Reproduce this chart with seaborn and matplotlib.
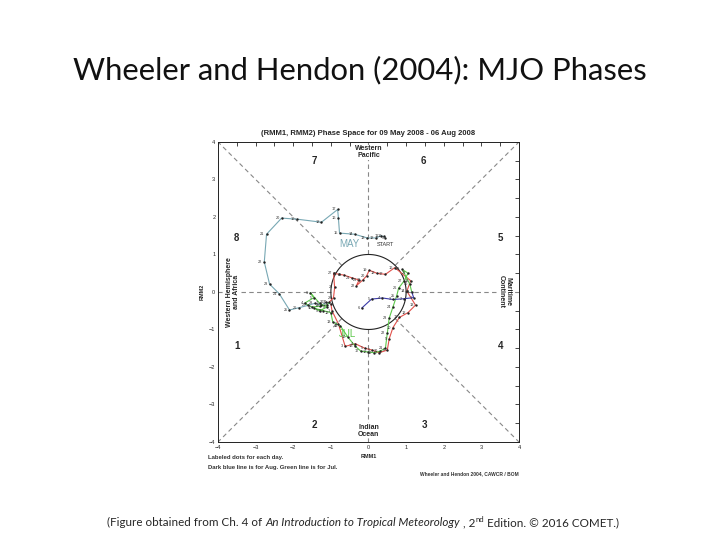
import numpy as np
import pandas as pd
import matplotlib
matplotlib.use('Agg')
import matplotlib.pyplot as plt
import seaborn as sns

sns.set_style('white')
plt.rcParams['font.family'] = ['Liberation Sans', 'DejaVu Sans']

# RMM1 / RMM2 daily values
may_days = list(range(9, 32))
may_rmm1 = [0.45, 0.40, 0.33, 0.20, -0.03, -0.37, -0.77, -0.80, -0.82, -1.25, -1.89, -2.31,
            -2.71, -2.77, -2.63, -2.37, -2.10, -1.85, -1.62, -1.42, -1.25, -1.12, -1.00]
may_rmm2 = [1.45, 1.48, 1.50, 1.44, 1.44, 1.54, 1.57, 1.97, 2.20, 1.86, 1.94, 1.97,
            1.54, 0.80, 0.21, -0.05, -0.48, -0.42, -0.36, -0.30, -0.35, -0.28, -0.32]

jun_days = list(range(1, 31))
jun_rmm1 = [-0.97, -0.80, -0.62, -0.35, -0.10, 0.10, 0.28, 0.50, 0.55, 0.65, 0.82, 1.05,
            1.25, 1.02, 1.12, 0.70, 0.45, 0.22, 0.02, -0.05, -0.15, -0.32, -0.25, -0.45,
            -0.65, -0.78, -0.93, -0.90, -0.93, -1.05]
jun_rmm2 = [-0.50, -0.85, -1.45, -1.38, -1.50, -1.55, -1.62, -1.55, -1.25, -0.95, -0.68, -0.55,
            -0.35, 0.02, 0.30, 0.65, 0.47, 0.50, 0.58, 0.43, 0.32, 0.17, 0.32, 0.38,
            0.45, 0.47, 0.50, 0.12, -0.15, -0.28]

jul_days = list(range(1, 32))
jul_rmm1 = [-1.10, -1.30, -1.50, -1.70, -1.45, -1.55, -1.30, -1.10, -1.30, -1.45, -1.20, -1.00,
            -0.95, -0.75, -0.55, -0.35, -0.20, 0.00, 0.15, 0.30, 0.45, 0.50, 0.55, 0.65,
            0.75, 0.80, 0.95, 1.05, 0.90, 1.10, 1.15]
jul_rmm2 = [-0.35, -0.38, -0.40, -0.30, -0.15, -0.02, -0.30, -0.40, -0.50, -0.43, -0.50, -0.55,
            -0.80, -0.90, -1.20, -1.45, -1.58, -1.60, -1.62, -1.58, -1.50, -1.10, -0.70, -0.40,
            -0.10, 0.10, 0.30, 0.50, 0.60, 0.20, 0.00]

aug_days = list(range(1, 7))
aug_rmm1 = [1.20, 0.95, 0.65, 0.37, 0.08, -0.18]
aug_rmm2 = [-0.15, -0.18, -0.20, -0.16, -0.19, -0.43]

months = ['May', 'Jun', 'Jul', 'Aug']
month_colors = ['#78a8b4', '#e0504a', '#5cc84a', '#3a3aa8']

phase_nums = ['1', '2', '3', '4', '5', '6', '7', '8']
phase_x = [-3.5, -1.45, 1.5, 3.5, 3.5, 1.45, -1.45, -3.5]
phase_y = [-1.45, -3.55, -3.55, -1.45, 1.45, 3.5, 3.5, 1.45]

# build the path table, each month starts at the last point of the month before
series = [(may_days, may_rmm1, may_rmm2), (jun_days, jun_rmm1, jun_rmm2),
          (jul_days, jul_rmm1, jul_rmm2), (aug_days, aug_rmm1, aug_rmm2)]
rows = []
dots = []
prev = None
for m, (d, r1, r2) in zip(months, series):
    if prev is not None:
        rows.append({'month': m, 'order': -1, 'RMM1': prev[0], 'RMM2': prev[1]})
    for i, (a, b) in enumerate(zip(r1, r2)):
        rows.append({'month': m, 'order': i, 'RMM1': a, 'RMM2': b})
        dots.append({'month': m, 'day': d[i], 'RMM1': a, 'RMM2': b})
    prev = (r1[-1], r2[-1])
path = pd.DataFrame(rows)
dots = pd.DataFrame(dots)

fig = plt.figure(figsize=(7.2, 5.4), dpi=100)
ax = fig.add_axes([0.3028, 0.1815, 0.418, 0.5556])

# phase-space guide lines
dash = dict(color='#888888', lw=0.8, ls=(0, (4, 3)), zorder=1)
r = 1 / np.sqrt(2)
ax.plot([0, 0], [1, 4], **dash)
ax.plot([0, 0], [-1, -4], **dash)
ax.plot([1, 4], [0, 0], **dash)
ax.plot([-1, -4], [0, 0], **dash)
ax.plot([r, 4], [r, 4], **dash)
ax.plot([-r, -4], [r, 4], **dash)
ax.plot([r, 4], [-r, -4], **dash)
ax.plot([-r, -4], [-r, -4], **dash)
t = np.linspace(0, 2 * np.pi, 200)
ax.plot(np.cos(t), np.sin(t), color='#222222', lw=0.8, zorder=2)

sns.lineplot(data=path, x='RMM1', y='RMM2', hue='month', units='month', estimator=None,
             sort=False, palette=dict(zip(months, month_colors)), lw=0.8, legend=False,
             ax=ax, zorder=3)
sns.scatterplot(data=dots, x='RMM1', y='RMM2', color='#222222', s=3, linewidth=0,
                legend=False, ax=ax, zorder=4)
for _, row in dots.iterrows():
    ax.text(row['RMM1'] - 0.05, row['RMM2'], str(row['day']), fontsize=2.8,
            ha='right', va='center', color='#333333', zorder=5)

ax.text(may_rmm1[0], may_rmm2[0] - 0.12, 'START', fontsize=4, ha='center', va='top',
        color='#333333', zorder=5)
ax.text(-0.78, 1.42, 'MAY', fontsize=7, color=month_colors[0], ha='left', va='top')
ax.text(-0.78, -1.0, 'JUL', fontsize=7, color=month_colors[2], ha='left', va='top')

for p, px, py in zip(phase_nums, phase_x, phase_y):
    ax.text(px, py, p, fontsize=7, fontweight='bold', ha='center', va='center')

box = dict(facecolor='white', edgecolor='none', pad=0.5)
ax.text(0, 3.72, 'Western\nPacific', fontsize=5, fontweight='bold', ha='center',
        va='center', linespacing=1.0, bbox=box, zorder=6)
ax.text(0, -3.7, 'Indian\nOcean', fontsize=5, fontweight='bold', ha='center',
        va='center', linespacing=1.0, bbox=box, zorder=6)
ax.text(-3.6, 0, 'Western Hemisphere\nand Africa', fontsize=5, fontweight='bold',
        ha='center', va='center', rotation=90, linespacing=1.0, bbox=box, zorder=6)
ax.text(3.62, 0, 'Maritime\nContinent', fontsize=5, fontweight='bold',
        ha='center', va='center', rotation=270, linespacing=1.0, bbox=box, zorder=6)

ax.set_xlim(-4, 4)
ax.set_ylim(-4, 4)
ax.set_xticks(np.arange(-4, 5, 1))
ax.set_yticks(np.arange(-4, 5, 1))
ax.set_xticks(np.arange(-4, 4.1, 0.5), minor=True)
ax.set_yticks(np.arange(-4, 4.1, 0.5), minor=True)
ax.tick_params(which='both', direction='in', top=True, right=True, length=3,
               width=0.6, labelsize=4, pad=2)
for s in ax.spines.values():
    s.set_linewidth(0.7)
    s.set_color('#222222')
ax.set_xlabel('RMM1', fontsize=4, fontweight='bold', labelpad=3)
ax.set_ylabel('RMM2', fontsize=4, fontweight='bold', labelpad=3)
ax.set_title('(RMM1, RMM2) Phase Space for 09 May 2008 - 06 Aug 2008', fontsize=5.5,
             fontweight='bold', pad=5)

fig.text(208 / 720, 1 - 458 / 540, 'Labeled dots for each day.', fontsize=4.3,
         fontweight='bold', va='center', color='#333333')
fig.text(208 / 720, 1 - 467 / 540, 'Dark blue line is for Aug. Green line is for Jul.',
         fontsize=4.3, fontweight='bold', va='center', color='#333333')
fig.text(519 / 720, 1 - 474 / 540, 'Wheeler and Hendon 2004, CAWCR / BOM', fontsize=3.5,
         fontweight='bold', va='center', ha='right', color='#333333')

# slide title and caption
fig.text(0.5, 1 - 70 / 540, 'Wheeler and Hendon (2004): MJO Phases', fontsize=22.3,
         family=['Lato', 'DejaVu Sans'], ha='center', va='center', color='#111111')
cap = dict(fontsize=8.4, family=['Lato', 'DejaVu Sans'])
t1 = fig.text(107 / 720, 1 - 528 / 540, '(Figure obtained from Ch. 4 of ', va='bottom', **cap)
a2 = ax.annotate('An Introduction to Tropical Meteorology', xy=(1, 0), xycoords=t1,
                 va='bottom', ha='left', style='italic', annotation_clip=False, **cap)
a3 = ax.annotate(' , 2', xy=(1, 0), xycoords=a2, va='bottom', ha='left',
                 annotation_clip=False, **cap)
a4 = ax.annotate('nd', xy=(1, 0.45), xycoords=a3, va='bottom', ha='left', fontsize=5.5,
                 family=['Lato', 'DejaVu Sans'], annotation_clip=False)
a5 = ax.annotate(' Edition. \u00a9 2016 COMET.)', xy=(1, 0), xycoords=(a4, a3),
                 va='bottom', ha='left', annotation_clip=False, **cap)

fig.savefig('out.png', dpi=100)
